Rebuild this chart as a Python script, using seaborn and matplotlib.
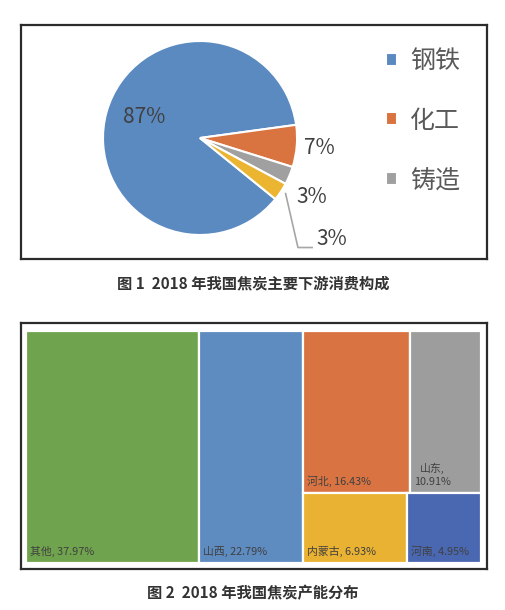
import numpy as np
import matplotlib
matplotlib.use("Agg")
import matplotlib.pyplot as plt
import seaborn as sns

# Figure 1: downstream consumption of coke in 2018
pie_labels = ["钢铁", "化工", "铸造", "其他"]
pie_shares = [87, 7, 3, 3]
pie_colors = ["#5B8AC1", "#D9733F", "#A0A0A0", "#EBB431"]

# Figure 2: coke capacity by province in 2018
tm_names = ["其他", "山西", "河北", "山东", "内蒙古", "河南"]
tm_values = [37.97, 22.79, 16.43, 10.91, 6.93, 4.95]
tm_colors = ["#6FA34D", "#5E8BC0", "#D97442", "#9D9D9D", "#EAB232", "#4A67B1"]
# columns of the treemap, each a list of rows (indices into tm_names)
tm_columns = [[[0]], [[1]], [[2, 3], [4, 5]]]

caption1 = "图 1  2018 年我国焦炭主要下游消费构成"
caption2 = "图 2  2018 年我国焦炭产能分布"

sns.set_theme(style="white")
plt.rcParams["font.family"] = ["Noto Sans CJK SC", "DejaVu Sans"]

W, H = 505, 610
fig = plt.figure(figsize=(W / 100, H / 100), dpi=100)


def px_axes(x0, y0, x1, y1):
    return fig.add_axes([x0 / W, 1 - y1 / H, (x1 - x0) / W, (y1 - y0) / H])


def frame(ax):
    ax.set_frame_on(True)
    ax.set_xticks([])
    ax.set_yticks([])
    for sp in ax.spines.values():
        sp.set_visible(True)
        sp.set_color("#2b2b2b")
        sp.set_linewidth(1.6)


text_gray = "#404040"

# ---------------- pie chart ----------------
ax1 = px_axes(21, 25, 487, 259)

cx, cy, r = 179, 121, 97
explode = [0, 0.06, 0.06, 0.06]
wedges, _ = ax1.pie(pie_shares, colors=pie_colors, startangle=321, counterclock=False,
                    center=(cx, cy), radius=r, explode=explode,
                    wedgeprops=dict(edgecolor="white", linewidth=1.5))
ax1.set_xlim(0, 466)
ax1.set_ylim(0, 234)
ax1.set_aspect("auto")
frame(ax1)

# percentage labels, placed around each wedge's mid-angle
label_dist = [0.62, 1.24, 1.30, 1.71]
label_shift = [-5, 0, -5, -3.7]
for i, w in enumerate(wedges):
    mid = np.deg2rad((w.theta1 + w.theta2) / 2 + label_shift[i])
    tx = cx + label_dist[i] * r * np.cos(mid)
    ty = cy + label_dist[i] * r * np.sin(mid)
    ax1.text(tx, ty, f"{pie_shares[i]}%", ha="center", va="center",
             fontsize=15, color=text_gray)
    if i == 3:
        # leader line for the last small slice
        m2 = np.deg2rad((w.theta1 + w.theta2) / 2)
        sx = cx + 1.02 * r * np.cos(m2) + 3
        sy = cy + 1.02 * r * np.sin(m2)
        ax1.plot([sx, tx - 34, tx - 19], [sy, ty - 9, ty - 9],
                 color="#A6A6A6", lw=1.2, solid_capstyle="butt")

ax1.legend(wedges[:3], pie_labels[:3], loc="upper left",
           bbox_to_anchor=((386 - 21) / 466, (259 - 48) / 234),
           frameon=False, fontsize=18, handlelength=0.42, handleheight=0.42,
           handletextpad=0.55, labelspacing=1.35, labelcolor="#595959",
           borderaxespad=0, borderpad=0)

fig.text(253 / W, 1 - 283 / H, caption1, ha="center", va="center",
         fontsize=11, fontweight="bold", color="#333333")

# ---------------- treemap ----------------
ax2 = px_axes(21, 323, 487, 569)
ix0, iy0, ix1, iy1 = 26, 331, 481, 563
iw, ih = ix1 - ix0, iy1 - iy0
ax2.set_xlim(-(ix0 - 21) / iw, 1 + (487 - ix1) / iw)
ax2.set_ylim(-(569 - iy1) / ih, 1 + (iy0 - 323) / ih)
frame(ax2)

total = sum(tm_values)
rects = []
x = 0.0
for col in tm_columns:
    col_sum = sum(tm_values[j] for row in col for j in row)
    cw = col_sum / total
    top = 1.0
    for row in col:
        row_sum = sum(tm_values[j] for j in row)
        rh = row_sum / col_sum
        xx = x
        for j in row:
            w = cw * tm_values[j] / row_sum
            rects.append((j, xx, top - rh, w, rh))
            xx += w
        top -= rh
    x += cw

for j, rx, ry, rw, rh in rects:
    ax2.bar(rx, rh, width=rw, bottom=ry, align="edge", color=tm_colors[j],
            edgecolor="white", linewidth=1.6)

fig.canvas.draw()
renderer = fig.canvas.get_renderer()
for j, rx, ry, rw, rh in rects:
    lab = f"{tm_names[j]}, {tm_values[j]:.2f}%"
    t = ax2.text(rx + 4 / iw, ry + 6 / ih, lab, ha="left", va="bottom",
                 fontsize=7.8, color=text_gray)
    if t.get_window_extent(renderer).width > rw * iw - 14:
        t.set_text(f"{tm_names[j]},\n{tm_values[j]:.2f}%")
        t.set_multialignment("center")
        t.set_linespacing(1.4)

fig.text(253 / W, 1 - 593 / H, caption2, ha="center", va="center",
         fontsize=11, fontweight="bold", color="#333333")

fig.savefig("out.png", dpi=100, facecolor="white")
